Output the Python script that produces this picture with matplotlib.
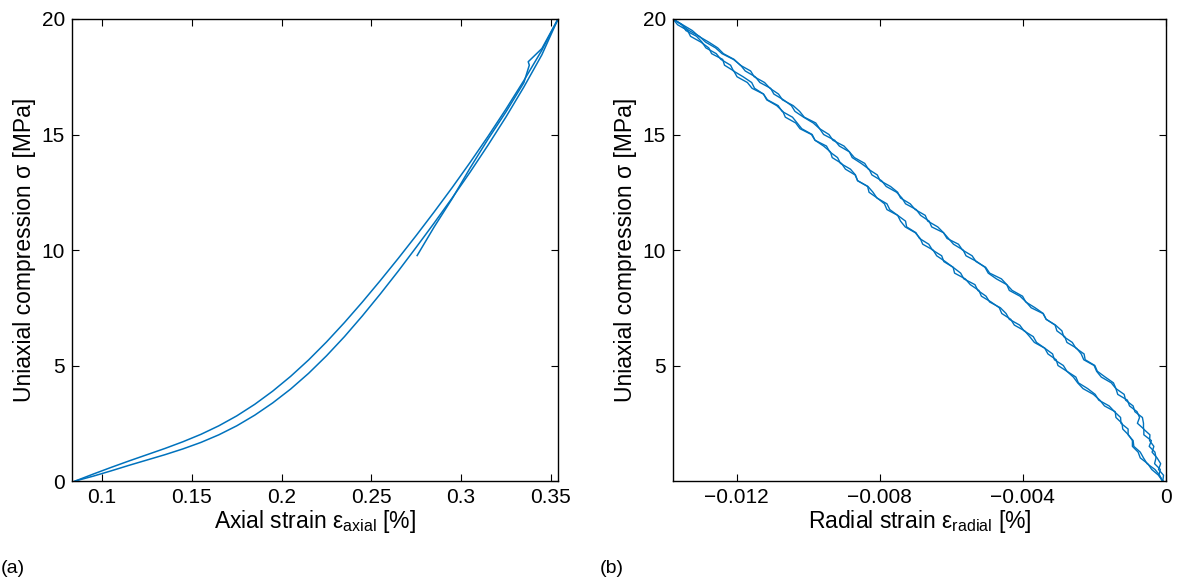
import numpy as np
import matplotlib
matplotlib.use("Agg")
import matplotlib.pyplot as plt

plt.rcParams['font.family'] = ['Liberation Sans', 'DejaVu Sans']
plt.rcParams['mathtext.fontset'] = 'custom'
plt.rcParams['mathtext.rm'] = 'Liberation Sans'
plt.rcParams['mathtext.it'] = 'Liberation Sans:italic'

LINE_COLOR = '#0072BD'

# ---- (a) axial strain [%] vs uniaxial compression [MPa] ----
axial_strain = [0.085, 0.095, 0.105, 0.115, 0.125, 0.135, 0.145, 0.155, 0.165,
                0.175, 0.185, 0.195, 0.205, 0.215, 0.225, 0.235, 0.245, 0.255,
                0.265, 0.275, 0.285, 0.295, 0.305, 0.315, 0.325, 0.335, 0.345,
                0.354]
stress_unload = [0.0, 0.30, 0.59, 0.87, 1.14, 1.41, 1.70, 2.02, 2.39, 2.82,
                 3.32, 3.89, 4.53, 5.24, 6.02, 6.86, 7.75, 8.68, 9.64, 10.63,
                 11.65, 12.70, 13.79, 14.92, 16.10, 17.34, 18.65, 20.0]
stress_load = [0.0, 0.21, 0.44, 0.68, 0.91, 1.14, 1.39, 1.67, 2.00, 2.39,
               2.85, 3.38, 3.98, 4.66, 5.42, 6.25, 7.15, 8.10, 9.09, 10.12,
               11.17, 12.25, 13.37, 14.54, 15.76, 17.06, 18.45, 20.0]
# partial reloading cycle from 10 MPa
axial_strain_reload = [0.2755, 0.285, 0.295, 0.305, 0.315, 0.325, 0.335,
                       0.3368, 0.3380, 0.3374, 0.345, 0.354]
stress_reload = [9.76, 11.00, 12.22, 13.55, 14.80, 15.98, 17.25,
                 17.70, 18.00, 18.15, 18.72, 20.0]

# ---- (b) radial strain [1e-3 %] vs uniaxial compression [MPa] ----
stress_levels = [0.0, 0.25, 0.5, 0.75, 1.0, 1.25, 1.5, 1.75, 2.0, 2.25, 2.5,
                 2.75, 3.0, 3.25, 3.5, 3.75, 4.0, 4.25, 4.5, 4.75, 5.0, 5.25,
                 5.5, 5.75, 6.0, 6.25, 6.5, 6.75, 7.0, 7.25, 7.5, 7.75, 8.0,
                 8.25, 8.5, 8.75, 9.0, 9.25, 9.5, 9.75, 10.0, 10.25, 10.5,
                 10.75, 11.0, 11.25, 11.5, 11.75, 12.0, 12.25, 12.5, 12.75,
                 13.0, 13.25, 13.5, 13.75, 14.0, 14.25, 14.5, 14.75, 15.0,
                 15.25, 15.5, 15.75, 16.0, 16.25, 16.5, 16.75, 17.0, 17.25,
                 17.5, 17.75, 18.0, 18.25, 18.5, 18.75, 19.0, 19.25, 19.5,
                 19.75, 20.0]
radial_upper_1 = [-0.08, -0.20, -0.16, -0.32, -0.28, -0.31, -0.47, -0.41,
                  -0.62, -0.62, -0.80, -0.74, -0.81, -1.02, -1.08, -1.35,
                  -1.40, -1.53, -1.81, -1.94, -2.01, -2.30, -2.37, -2.50,
                  -2.77, -2.83, -3.05, -3.10, -3.35, -3.44, -3.77, -3.91,
                  -4.08, -4.38, -4.45, -4.74, -4.97, -5.06, -5.29, -5.59,
                  -5.67, -5.94, -6.08, -6.22, -6.55, -6.62, -6.86, -6.98,
                  -7.28, -7.38, -7.53, -7.82, -7.95, -8.22, -8.30, -8.52,
                  -8.77, -8.85, -9.13, -9.26, -9.57, -9.68, -9.86, -10.13,
                  -10.37, -10.47, -10.69, -10.96, -11.05, -11.35, -11.48,
                  -11.76, -11.89, -12.09, -12.41, -12.59, -12.87, -13.04,
                  -13.33, -13.54, -13.78]
radial_upper_2 = [-0.09, -0.07, -0.21, -0.15, -0.25, -0.39, -0.34, -0.46,
                  -0.45, -0.63, -0.63, -0.66, -0.87, -0.92, -1.13, -1.17,
                  -1.40, -1.47, -1.70, -1.92, -1.99, -2.26, -2.29, -2.52,
                  -2.62, -2.86, -2.91, -3.09, -3.35, -3.43, -3.66, -3.92,
                  -4.01, -4.30, -4.45, -4.60, -4.93, -5.04, -5.31, -5.42,
                  -5.69, -5.80, -6.12, -6.22, -6.38, -6.66, -6.73, -7.01,
                  -7.15, -7.42, -7.50, -7.70, -7.99, -8.07, -8.32, -8.42,
                  -8.71, -8.85, -9.00, -9.31, -9.42, -9.68, -9.79, -10.11,
                  -10.24, -10.42, -10.72, -10.83, -11.07, -11.22, -11.51,
                  -11.61, -11.90, -12.07, -12.37, -12.53, -12.78, -13.06,
                  -13.24, -13.51, -13.78]
radial_lower_1 = [-0.10, -0.21, -0.40, -0.51, -0.72, -0.78, -0.94, -0.94,
                  -1.05, -1.21, -1.23, -1.40, -1.42, -1.72, -1.85, -2.03,
                  -2.32, -2.47, -2.59, -2.77, -3.02, -3.07, -3.30, -3.39,
                  -3.68, -3.81, -3.95, -4.24, -4.34, -4.59, -4.66, -4.89,
                  -5.16, -5.23, -5.47, -5.61, -5.91, -5.95, -6.17, -6.41,
                  -6.51, -6.80, -6.87, -7.01, -7.29, -7.42, -7.50, -7.80,
                  -7.87, -8.07, -8.30, -8.34, -8.62, -8.69, -8.96, -9.07,
                  -9.33, -9.38, -9.57, -9.81, -9.91, -10.23, -10.35, -10.64,
                  -10.71, -10.88, -11.16, -11.25, -11.57, -11.70, -11.99,
                  -12.08, -12.34, -12.39, -12.70, -12.78, -13.00, -13.29,
                  -13.37, -13.65, -13.78]
radial_lower_2 = [-0.10, -0.18, -0.31, -0.53, -0.63, -0.72, -0.90, -0.92,
                  -1.06, -1.06, -1.26, -1.27, -1.44, -1.59, -1.88, -1.98,
                  -2.19, -2.45, -2.52, -2.77, -2.87, -3.12, -3.17, -3.39,
                  -3.62, -3.71, -3.97, -4.09, -4.38, -4.47, -4.63, -4.93,
                  -5.03, -5.26, -5.34, -5.65, -5.74, -5.95, -6.21, -6.27,
                  -6.53, -6.63, -6.89, -6.99, -7.25, -7.28, -7.50, -7.72,
                  -7.80, -8.08, -8.19, -8.33, -8.62, -8.68, -8.82, -9.10,
                  -9.18, -9.40, -9.49, -9.81, -9.89, -10.18, -10.31, -10.44,
                  -10.73, -10.84, -11.14, -11.25, -11.50, -11.58, -11.82,
                  -12.09, -12.17, -12.44, -12.57, -12.86, -12.97, -13.12,
                  -13.42, -13.52, -13.78]

axial_ticks = [0.1, 0.15, 0.2, 0.25, 0.3, 0.35]
axial_ticklabels = ['0.1', '0.15', '0.2', '0.25', '0.3', '0.35']
stress_ticks_a = [0, 5, 10, 15, 20]
radial_ticks = [-0.012, -0.008, -0.004, 0.0]
radial_ticklabels = ['\u22120.012', '\u22120.008', '\u22120.004', '0']
stress_ticks_b = [5, 10, 15, 20]

TICK_FS = 15
LABEL_FS = 16.5

fig = plt.figure(figsize=(11.79, 5.81), dpi=100)
ax_a = fig.add_axes([0.0611, 0.1721, 0.4122, 0.7952])
ax_b = fig.add_axes([0.5708, 0.1721, 0.4182, 0.7952])


def style_axes(ax):
    ax.tick_params(direction='in', top=True, right=True, length=5,
                   width=0.8, labelsize=TICK_FS, pad=5)
    for s in ax.spines.values():
        s.set_linewidth(1.0)


ax_a.plot(axial_strain, stress_load, color=LINE_COLOR, lw=1.1)
ax_a.plot(axial_strain, stress_unload, color=LINE_COLOR, lw=1.1)
ax_a.plot(axial_strain_reload, stress_reload, color=LINE_COLOR, lw=1.1)
ax_a.set_xlim(0.0832, 0.354)
ax_a.set_ylim(0, 20)
ax_a.set_xticks(axial_ticks)
ax_a.set_xticklabels(axial_ticklabels)
ax_a.set_yticks(stress_ticks_a)
ax_a.set_xlabel(r'Axial strain ε$_{\mathrm{axial}}$ [%]', fontsize=LABEL_FS,
                labelpad=1)
ax_a.set_ylabel('Uniaxial compression σ [MPa]', fontsize=LABEL_FS,
                labelpad=4)
style_axes(ax_a)

for series in (radial_upper_1, radial_upper_2, radial_lower_1, radial_lower_2):
    ax_b.plot(np.array(series) * 1e-3, stress_levels, color=LINE_COLOR, lw=1.0)
ax_b.set_xlim(-0.01378, -0.00008)
ax_b.set_ylim(0, 20)
ax_b.set_xticks(radial_ticks)
ax_b.set_xticklabels(radial_ticklabels)
ax_b.set_yticks(stress_ticks_b)
ax_b.set_xlabel(r'Radial strain ε$_{\mathrm{radial}}$ [%]', fontsize=LABEL_FS,
                labelpad=1)
ax_b.set_ylabel('Uniaxial compression σ [MPa]', fontsize=LABEL_FS,
                labelpad=4)
style_axes(ax_b)

fig.text(0.001, 0.014, '(a)', fontsize=14)
fig.text(0.509, 0.014, '(b)', fontsize=14)

fig.savefig('out.png', dpi=100)
